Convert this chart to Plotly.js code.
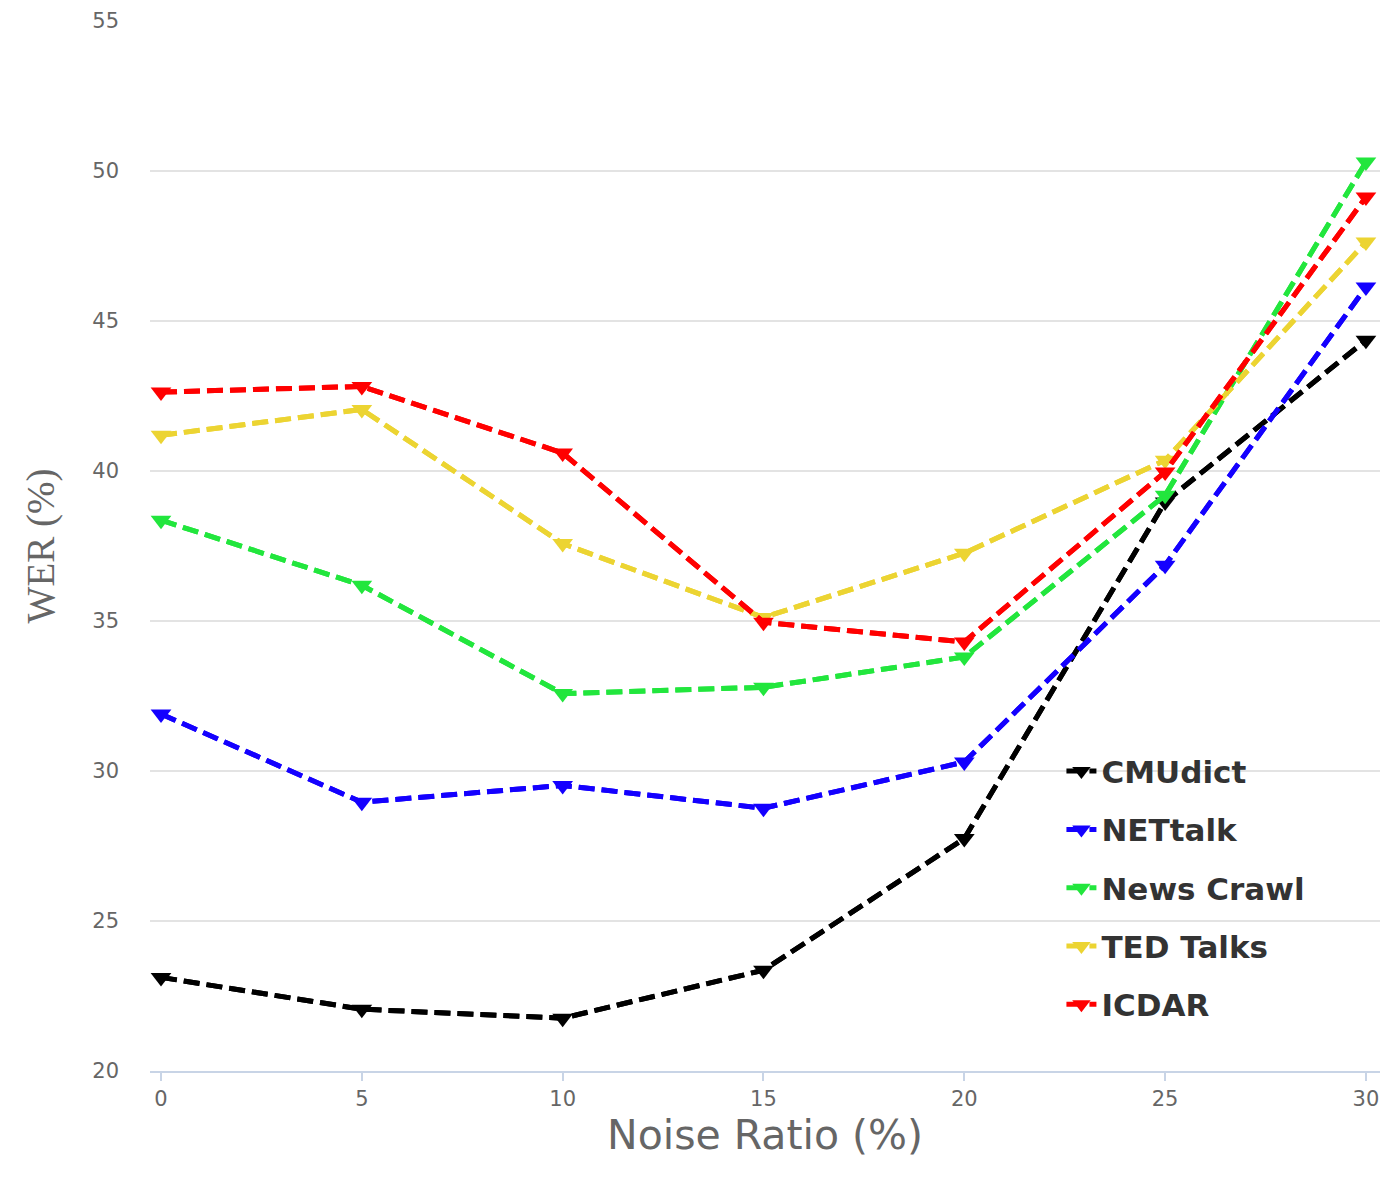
<!DOCTYPE html>
<html>
<head>
<meta charset="utf-8">
<script src="https://cdn.plot.ly/plotly-3.0.1.min.js"></script>
<style>html,body{margin:0;padding:0;background:#fff;}#chart{width:1400px;height:1200px;}</style>
</head>
<body>
<div id="chart"></div>
<script>
const noiseRatio = [0, 5, 10, 15, 20, 25, 30];
const seriesNames = ["CMUdict", "NETtalk", "News Crawl", "TED Talks", "ICDAR"];
const cmudict   = [23.12, 22.06, 21.76, 23.36, 27.75, 38.97, 44.36];
const nettalk   = [31.90, 28.96, 29.52, 28.76, 30.30, 36.86, 46.13];
const newsCrawl = [38.36, 36.19, 32.58, 32.79, 33.80, 39.19, 50.30];
const tedTalks  = [41.19, 42.05, 37.58, 35.12, 37.26, 40.36, 47.63];
const icdar     = [42.63, 42.82, 40.60, 34.96, 34.30, 39.97, 49.13];
const seriesColors = ["#000000", "#1400ff", "#22e63d", "#ecd432", "#ff0000"];
const yTickVals = [20, 25, 30, 35, 40, 45, 50, 55];
const xTickVals = [0, 5, 10, 15, 20, 25, 30];

const allSeries = [cmudict, nettalk, newsCrawl, tedTalks, icdar];
const traces = [];
allSeries.forEach((vals, i) => {
  const lineStyle = {color: seriesColors[i], width: 5, dash: "16px,7px"};
  traces.push({
    x: noiseRatio, y: vals, name: seriesNames[i], type: "scatter",
    mode: "lines+markers", legendgroup: "g" + i,
    line: lineStyle,
    marker: {symbol: "triangle-down", size: 18, color: seriesColors[i]}
  });
  traces.push({
    x: noiseRatio, y: vals, name: seriesNames[i], type: "scatter",
    mode: "lines", legendgroup: "g" + i, showlegend: false,
    line: lineStyle, hoverinfo: "skip"
  });
});

const layout = {
  width: 1400, height: 1200,
  paper_bgcolor: "#ffffff", plot_bgcolor: "#ffffff",
  margin: {l: 150, r: 20, t: 21, b: 129},
  showlegend: true,
  legend: {
    x: 0.741, y: 0.311, xanchor: "left", yanchor: "top",
    bgcolor: "rgba(0,0,0,0)", tracegroupgap: 15,
    font: {family: "DejaVu Sans", size: 31, color: "#333333", weight: "bold"}
  },
  xaxis: {
    range: [-0.274, 30.35], tickvals: xTickVals, ticktext: xTickVals.map(String),
    showgrid: false, zeroline: false,
    showline: true, linecolor: "#c8d4e6", linewidth: 2,
    ticks: "outside", ticklen: 8, tickwidth: 2, tickcolor: "#c8d4e6",
    tickfont: {family: "DejaVu Sans", size: 21, color: "#666666"},
    title: {text: "Noise Ratio (%)", font: {family: "DejaVu Sans", size: 41, color: "#666666"}, standoff: 6},
    automargin: false
  },
  yaxis: {
    range: [20, 55], tickvals: yTickVals, ticktext: yTickVals.map(String),
    showgrid: true, gridcolor: "#e3e3e3", gridwidth: 2,
    zeroline: false, showline: false, ticks: "",
    ticklabelstandoff: 30,
    tickfont: {family: "DejaVu Sans", size: 21, color: "#666666"},
    title: {text: "WER (%)", font: {family: "Liberation Serif", size: 39, color: "#666666"}, standoff: 25},
    automargin: false
  }
};

Plotly.newPlot("chart", traces, layout, {displayModeBar: false, staticPlot: true});
</script>
</body>
</html>
